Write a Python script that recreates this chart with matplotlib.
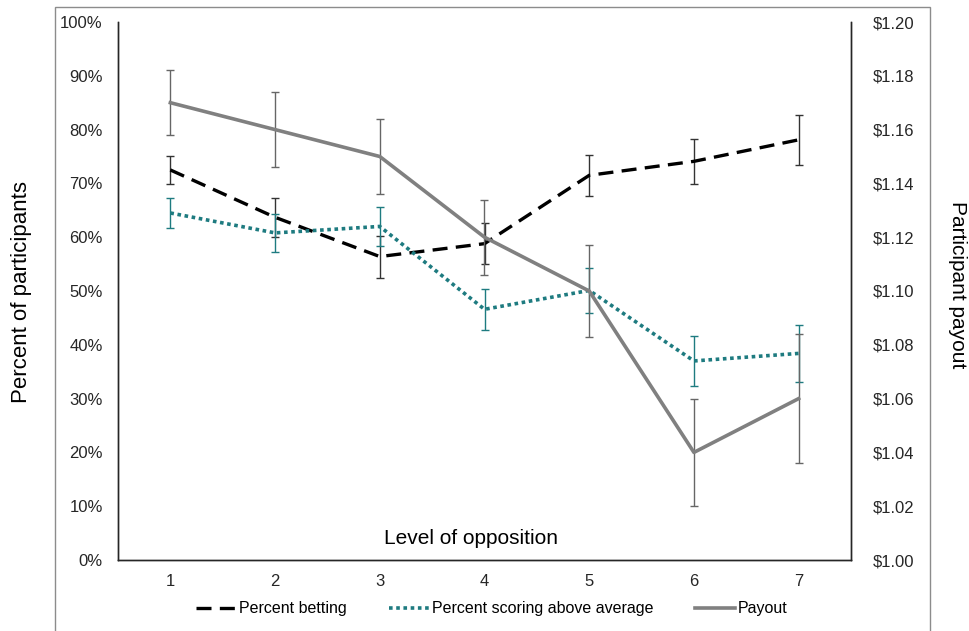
import numpy as np
import matplotlib
matplotlib.use("Agg")
import matplotlib.pyplot as plt
from matplotlib.patches import Rectangle
from matplotlib.lines import Line2D
from matplotlib.ticker import FuncFormatter

plt.rcParams['font.family'] = ['Liberation Sans', 'DejaVu Sans']

# data
levels = [1, 2, 3, 4, 5, 6, 7]
betting = [72.5, 63.7, 56.4, 58.8, 71.5, 74.1, 78.1]
betting_err = [2.6, 3.6, 3.9, 3.8, 3.8, 4.2, 4.6]
scoring = [64.5, 60.8, 62.0, 46.6, 50.1, 37.0, 38.4]
scoring_err = [2.8, 3.6, 3.6, 3.8, 4.2, 4.7, 5.3]
payout = [1.17, 1.16, 1.15, 1.12, 1.10, 1.04, 1.06]
payout_err = [0.012, 0.014, 0.014, 0.014, 0.017, 0.020, 0.024]
series_names = ['Percent betting', 'Percent scoring above average', 'Payout']

teal = '#1e7b80'
gray = '#808080'
bet_dash = (4.5, 2.5)
dot_dash = (1, 1)

fig = plt.figure(figsize=(9.69, 6.31), dpi=100)
ax = fig.add_axes([118/969, 1 - 560/631, (851 - 118)/969, (560 - 22)/631])
ax2 = ax.twinx()

# left axis: percentages
ax.errorbar(levels, betting, yerr=betting_err, color='black', lw=2.4,
            dashes=bet_dash, ecolor='#333333', elinewidth=1, capsize=3,
            capthick=1)
ax.errorbar(levels, scoring, yerr=scoring_err, color=teal, lw=2.6,
            dashes=dot_dash, ecolor=teal, elinewidth=1, capsize=3,
            capthick=1)

# right axis: payout
ax2.errorbar(levels, payout, yerr=payout_err, color=gray, lw=2.6,
             ecolor='#666666', elinewidth=1, capsize=3, capthick=1)

ax.set_xlim(0.5, 7.5)
ax.set_ylim(0, 100)
ax.set_yticks(np.arange(0, 101, 10))
ax.yaxis.set_major_formatter(FuncFormatter(lambda v, p: f'{v:.0f}%'))
ax.set_xticks(levels)

ax2.set_ylim(1.00, 1.20)
ax2.set_yticks(np.linspace(1.00, 1.20, 11))
ax2.yaxis.set_major_formatter(FuncFormatter(lambda v, p: f'${v:.2f}'))

for a in (ax, ax2):
    a.tick_params(length=0, labelsize=12, colors='#262626')
    a.spines['top'].set_visible(False)
    for s in ('left', 'right', 'bottom'):
        a.spines[s].set_color('#262626')
        a.spines[s].set_linewidth(1)
ax.tick_params(axis='y', pad=11)
ax2.tick_params(axis='y', pad=16)
ax.tick_params(axis='x', pad=10)

fig.text(22/969, 1 - 292/631, 'Percent of participants', rotation=90,
         ha='center', va='center', fontsize=16)
fig.text(958/969, 1 - 285/631, 'Participant payout', rotation=-90,
         ha='center', va='center', fontsize=15)
fig.text(471/969, 1 - 538/631, 'Level of opposition', ha='center',
         va='center', fontsize=15)

handles = [
    Line2D([], [], color='black', lw=2.4, dashes=bet_dash),
    Line2D([], [], color=teal, lw=2.6, dashes=dot_dash),
    Line2D([], [], color=gray, lw=2.6),
]
fig.legend(handles, series_names, loc='center', ncol=3,
           bbox_to_anchor=(492/969, 1 - 609/631), frameon=False,
           fontsize=11.5, handlelength=2.5, handletextpad=0.2,
           columnspacing=2.6)

# chart-area border
fig.add_artist(Rectangle((55/969, -0.01), (930 - 55)/969, 1 - 7/631 + 0.01,
                         transform=fig.transFigure, fill=False,
                         edgecolor='#8c8c8c', lw=1))

fig.savefig('out.png', dpi=100)
